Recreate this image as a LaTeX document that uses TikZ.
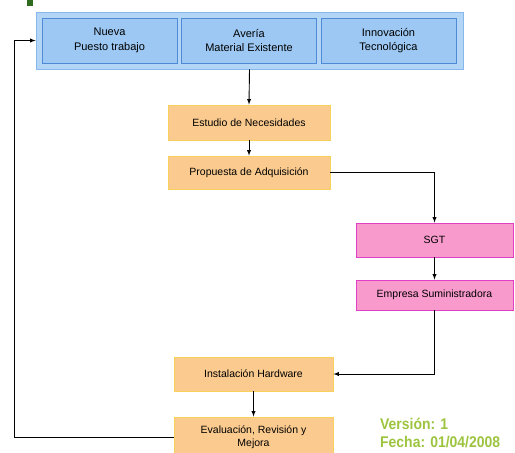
\documentclass[tikz,border=0pt]{standalone}
\usepackage{fontspec}
\setmainfont{Liberation Sans}
\newfontfamily\versionfont[FakeStretch=0.9]{Liberation Sans}
\usetikzlibrary{arrows}
\definecolor{marcofondo}{HTML}{B3D6F7}
\definecolor{marcoborde}{HTML}{86B8EE}
\definecolor{azulcaja}{HTML}{9CC8F3}
\definecolor{azulborde}{HTML}{4F8AD6}
\definecolor{naranja}{HTML}{FBCA8E}
\definecolor{naranjaborde}{HTML}{F7D25A}
\definecolor{rosa}{HTML}{F99ACC}
\definecolor{rosaborde}{HTML}{E03FC6}
\definecolor{verdetexto}{HTML}{9CC43F}
\definecolor{verdemarca}{HTML}{2E6B1F}
\tikzset{
  caja/.style = {draw, line width = 0.8pt, inner sep = 2pt, align = center,
    font = \fontsize{10.5}{13.5}\selectfont},
  cajaazul/.style = {caja, draw = azulborde, fill = azulcaja, minimum width = 135, minimum height = 45,
    font = \fontsize{11}{14.5}\selectfont},
  cajanaranja/.style = {caja, draw = naranjaborde, fill = naranja, minimum width = 160},
  cajarosa/.style = {caja, draw = rosaborde, fill = rosa, minimum width = 157},
  flecha/.style = {-latex, line width = 0.9pt}
}
\begin{document}
\begin{tikzpicture}[x = 1pt, y = -1pt]
  \useasboundingbox (0, 0) rectangle (515, 453);
  \fill[verdemarca] (27, 0) rectangle (33, 6);
  \node[draw = marcoborde, fill = marcofondo, line width = 0.8pt, minimum width = 427, minimum height = 57] (marco) at (249.5, 40.5) {};
  \node[cajaazul] (nueva) at (109.5, 40.5) {Nueva\\Puesto trabajo};
  \node[cajaazul] (averia) at (249, 40.5) {Avería\\Material Existente};
  \node[cajaazul] (innovacion) at (388.5, 40.5) {Innovación\\Tecnológica};
  \node[cajanaranja, minimum width = 162, minimum height = 35] (estudio) at (249, 122.5) {Estudio de Necesidades};
  \node[cajanaranja, minimum width = 162, minimum height = 33] (propuesta) at (249, 172.5) {Propuesta de Adquisición};
  \node[cajarosa, minimum height = 34] (sgt) at (434.5, 240) {SGT};
  \node[cajarosa, minimum height = 30] (empresa) at (434.5, 295) {Empresa Suministradora};
  \node[cajanaranja, minimum width = 159, minimum height = 34] (instalacion) at (253.5, 374) {Instalación Hardware};
  \node[cajanaranja, minimum width = 159, minimum height = 40] (evaluacion) at (253.5, 437) {Evaluación, Revisión y\\Mejora};
  \node[anchor = north west, align = left, inner sep = 0pt, text = verdetexto,
    font = \versionfont\bfseries\fontsize{15.5}{18}\selectfont] (version) at (380, 418) {Versión: 1\\Fecha: 01/04/2008};
  \coordinate (retorno) at (14, 437);
  \draw[flecha] (marco.south) -- (estudio.north);
  \draw[flecha] (estudio) -- (propuesta);
  \draw[flecha] (propuesta.east) -| (sgt.north);
  \draw[flecha] (sgt) -- (empresa);
  \draw[flecha] (empresa.south) |- (instalacion.east);
  \draw[flecha] (instalacion) -- (evaluacion);
  \draw[flecha] (evaluacion.west) -- (retorno) |- (marco.west);
\end{tikzpicture}
\end{document}
